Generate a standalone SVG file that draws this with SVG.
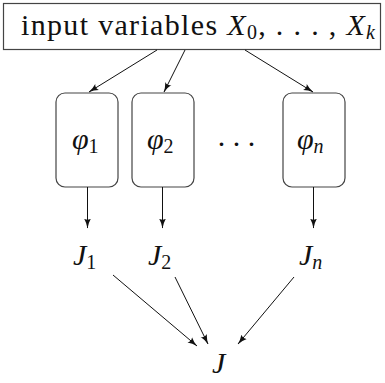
<svg xmlns="http://www.w3.org/2000/svg" width="385" height="383" viewBox="0 0 385 383">
<style>
text{font-family:"Liberation Serif","DejaVu Serif",serif;fill:#111;font-size:30px;}
.box{fill:#fff;stroke:#444;stroke-width:1.2;}
.con{stroke:#111;stroke-width:1;fill:none;marker-end:url(#ah);}
.it{font-style:italic;}
.sub{font-size:20px;}
.up{font-style:normal;}
</style>
<defs>
<marker id="ah" viewBox="0 0 10 8" refX="9.5" refY="4" markerWidth="10" markerHeight="8" markerUnits="userSpaceOnUse" orient="auto">
<path d="M0,0.5 Q4,3 10,4 Q4,5 0,7.5 Q2.5,4 0,0.5 z" fill="#111"/>
</marker>
</defs>
<rect width="385" height="383" fill="#fff"/>
<g id="input">
<rect class="box" x="3.5" y="3.5" width="377" height="46"/>
<text x="21" y="35" textLength="354" lengthAdjust="spacing">input variables <tspan class="it">X</tspan><tspan class="sub" dy="4">0</tspan><tspan dy="-4">, . . . , </tspan><tspan class="it">X</tspan><tspan class="sub it" dy="4">k</tspan></text>
</g>
<g id="phi1">
<rect class="box" x="56" y="93" width="62" height="94" rx="9"/>
<text x="72" y="149" class="it">φ<tspan class="sub up" dy="4">1</tspan></text>
</g>
<g id="phi2">
<rect class="box" x="132" y="93" width="62" height="94" rx="9"/>
<text x="147" y="149" class="it">φ<tspan class="sub up" dy="4">2</tspan></text>
</g>
<g id="dots">
<text x="216.5 231.5 246.5" y="154">···</text>
</g>
<g id="phin">
<rect class="box" x="283" y="93" width="62" height="94" rx="9"/>
<text x="297" y="149" class="it">φ<tspan class="sub" dy="4">n</tspan></text>
</g>
<g id="J1"><text x="73" y="265" class="it">J<tspan class="sub up" dy="4">1</tspan></text></g>
<g id="J2"><text x="148" y="265" class="it">J<tspan class="sub up" dy="4">2</tspan></text></g>
<g id="Jn"><text x="299" y="265" class="it">J<tspan class="sub" dy="4">n</tspan></text></g>
<g id="J"><text x="212" y="373" class="it">J</text></g>
<g id="connectors">
<line class="con" x1="157" y1="50" x2="89" y2="92"/>
<line class="con" x1="185" y1="50" x2="164" y2="92"/>
<line class="con" x1="245" y1="50" x2="313" y2="92"/>
<line class="con" x1="87.5" y1="187" x2="87.5" y2="228"/>
<line class="con" x1="162.5" y1="187" x2="162.5" y2="228"/>
<line class="con" x1="313.5" y1="187" x2="313.5" y2="228"/>
<line class="con" x1="113" y1="275" x2="197" y2="346"/>
<line class="con" x1="175" y1="277" x2="208" y2="344"/>
<line class="con" x1="294" y1="277" x2="238" y2="344"/>
</g>
</svg>
